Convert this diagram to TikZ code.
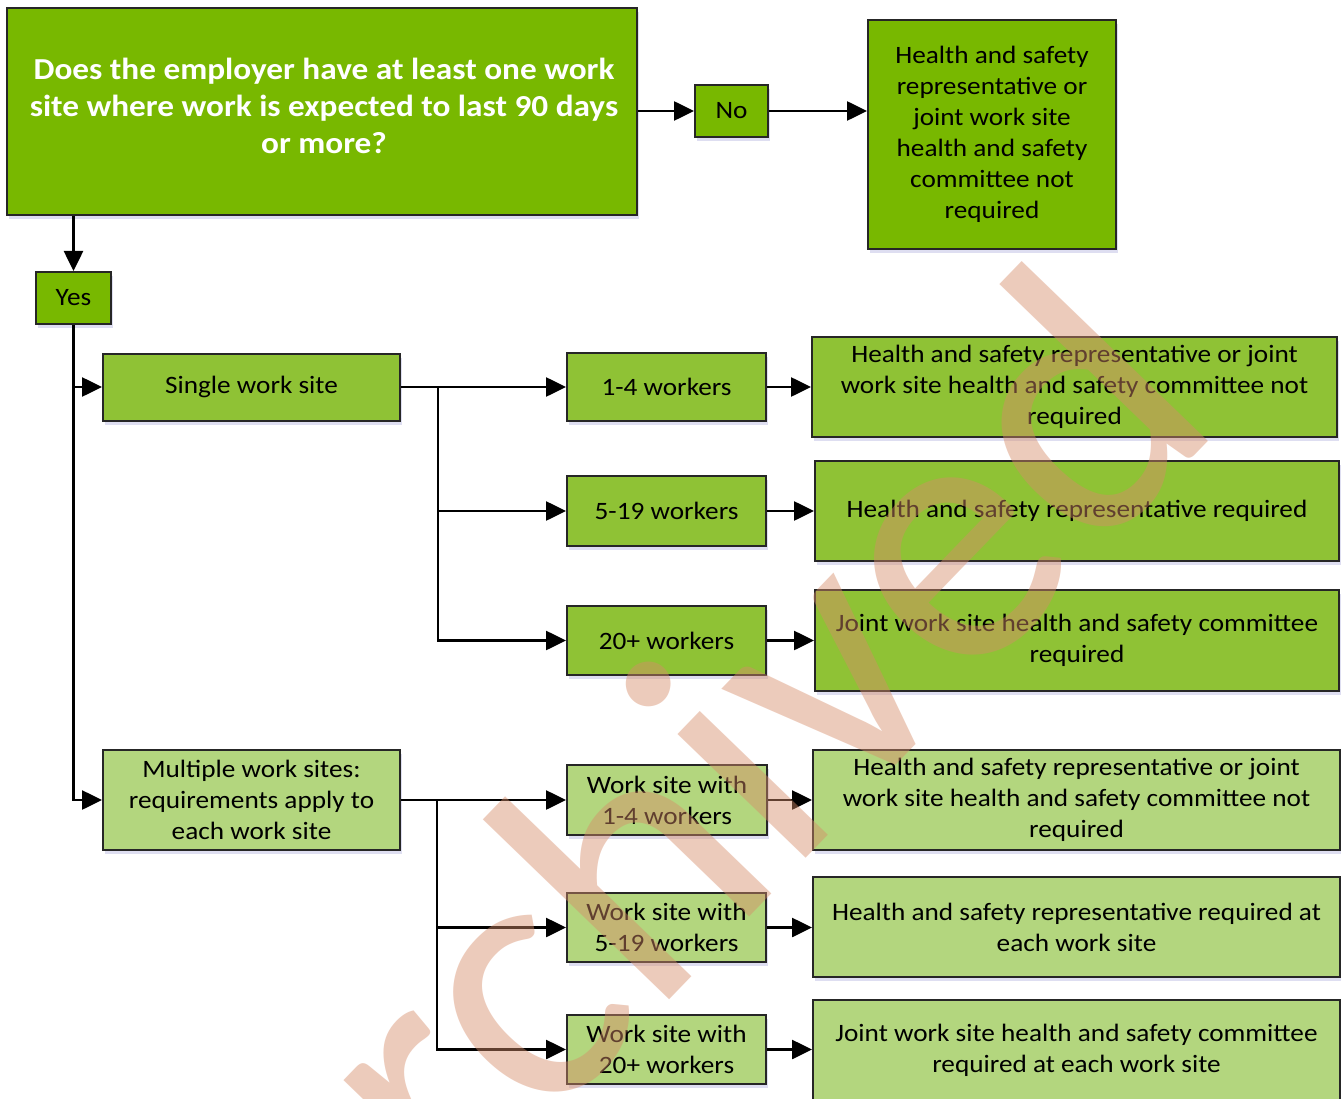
\documentclass[tikz,border=0pt]{standalone}
\usepackage{fontspec}
\setmainfont[FakeStretch=1.09]{Carlito}
\newfontfamily\wmfont{Carlito}
\usetikzlibrary{arrows.meta,shadows}
\definecolor{gA}{RGB}{120,184,0}
\definecolor{gB}{RGB}{143,194,53}
\definecolor{gC}{RGB}{179,214,126}
\definecolor{bord}{RGB}{38,38,38}
\definecolor{wm}{RGB}{215,140,105}
\begin{document}
\begin{tikzpicture}[x=1pt,y=-1pt,
  box/.style={draw=bord, line width=2pt, align=center, inner sep=0pt,
    font=\fontsize{25}{31}\selectfont, text=black,
    drop shadow={shadow xshift=2pt, shadow yshift=-4pt, fill=blue!40!gray, opacity=0.18}},
  bA/.style={box, fill=gA},
  bB/.style={box, fill=gB},
  bC/.style={box, fill=gC},
  sz/.style 2 args={minimum width=#1pt, minimum height=#2pt},
  arr/.style={line width=2.6pt, -{Triangle[length=20pt,width=19pt]}},
  qtext/.style={align=center, inner sep=0pt, text=white,
    font=\bfseries\fontsize{30.5}{37}\selectfont},
  wmark/.style={rotate=46, anchor=base, text=wm, opacity=0.45, inner sep=0pt,
    font=\wmfont\fontsize{373}{420}\selectfont}]
\useasboundingbox (0,0) rectangle (1341,1099);
\fill[white] (0,0) rectangle (1341,1099);

% top
\node[bA, sz={630}{207}] (q) at (322,111.5) {};
\node[qtext] (qt) at (324,106)
  {Does the employer have at least one work\\ site where work is expected to last 90 days\\ or more?};
\node[bA, sz={73}{52}] (no) at (731.5,111) {No};
\node[bA, sz={248}{229}] (nores) at (992,134.5)
  {Health and safety\\ representative or\\ joint work site\\ health and safety\\ committee not\\ required};
\node[bA, sz={75}{52}] (yes) at (73.5,298) {Yes};

% single work site
\node[bB, sz={297}{67}] (single) at (251.5,387) {Single work site};
\node[bB, sz={199}{68}] (w14) at (666.5,387) {1-4 workers};
\node[bB, sz={199}{70}] (w519) at (666.5,511) {5-19 workers};
\node[bB, sz={199}{69}] (w20) at (666.5,640.5) {20+ workers};
\node[bB, sz={525}{100}] (r1) at (1074.5,387)
  {Health and safety representative or joint\\ work site health and safety committee not\\ required};
\node[bB, sz={524}{100}] (r2) at (1077,511) {Health and safety representative required};
\node[bB, sz={524}{101}] (r3) at (1077,640.5)
  {Joint work site health and safety committee\\ required};

% multiple work sites
\node[bC, sz={297}{100}] (multi) at (251.5,800)
  {Multiple work sites:\\ requirements apply to\\ each work site};
\node[bC, sz={200}{70}] (m14) at (667,800) {Work site with\\ 1-4 workers};
\node[bC, sz={199}{69}] (m519) at (666.5,927.5) {Work site with\\ 5-19 workers};
\node[bC, sz={199}{69}] (m20) at (666.5,1049.5) {Work site with\\ 20+ workers};
\node[bC, sz={527}{100}] (mr1) at (1076.5,800)
  {Health and safety representative or joint\\ work site health and safety committee not\\ required};
\node[bC, sz={527}{100}] (mr2) at (1076.5,927)
  {Health and safety representative required at\\ each work site};
\node[bC, sz={527}{100}] (mr3) at (1076.5,1050)
  {Joint work site health and safety committee\\ required at each work site};

% connectors
\draw[arr] (q.east |- no.west) -- (no.west);
\draw[arr] (no.east) -- (no.east -| nores.west);
\draw[arr] (q.south -| yes.north) -- (yes.north);
\draw[arr] (yes.south) |- (multi.west);
\draw[arr] (yes.south |- single.west) -- (single.west);

\coordinate (j1) at (438,387);
\draw[arr] (single.east) -- (w14.west);
\draw[arr] (j1) |- (w20.west);
\draw[arr] (j1 |- w519.west) -- (w519.west);
\draw[arr] (w14.east) -- (w14.east -| r1.west);
\draw[arr] (w519.east) -- (w519.east -| r2.west);
\draw[arr] (w20.east) -- (w20.east -| r3.west);

\coordinate (j2) at (437,800);
\draw[arr] (multi.east) -- (m14.west);
\draw[arr] (j2) |- (m20.west);
\draw[arr] (j2 |- m519.west) -- (m519.west);
\draw[arr] (m14.east) -- (m14.east -| mr1.west);
\draw[arr] (m519.east) -- (m519.east -| mr2.west);
\draw[arr] (m20.east) -- (m20.east -| mr3.west);

% watermark
\node[wmark] (wmk) at (766,900) {Archived};
\end{tikzpicture}
\end{document}
